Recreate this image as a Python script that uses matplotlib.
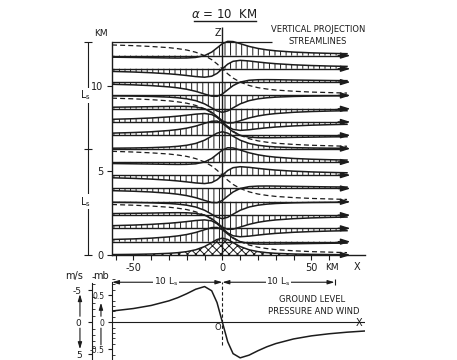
import matplotlib
matplotlib.use('Agg')
import matplotlib.pyplot as plt
from matplotlib.lines import Line2D
from matplotlib.ticker import MultipleLocator

INK = '#1c1c1c'
W, H = 457, 360

plt.rcParams['font.family'] = 'DejaVu Sans'
plt.rcParams['hatch.linewidth'] = 0.7
plt.rcParams['hatch.color'] = INK

# x positions (km) where the streamline shifts were read
x_km = [-62, -50, -40, -30, -25, -20, -15, -10, -6, -3, 0, 3, 6, 10, 15, 20, 25, 30, 40, 50, 60, 70]

# undisturbed streamline heights (km), L_s / 8 apart
levels = [0.0, 0.79, 1.58, 2.36, 3.15, 3.94, 4.73, 5.51,
          6.30, 7.09, 7.88, 8.66, 9.45, 10.24, 11.03, 11.81]

# vertical shift (km) of a streamline, one list per eighth of L_s
shift_0 = [.025, .038, .059, .10, .138, .20, .308, .50, .735, .917, 1.0, .917, .735, .50, .308, .20, .138, .10, .059, .038, .027, .02]
shift_1 = [.129, .163, .208, .283, .341, .424, .544, .707, .831, .843, .707, .454, .208, 0, -.109, -.141, -.146, -.141, -.124, -.109, -.095, -.085]
shift_2 = [.157, .192, .235, .30, .345, .40, .462, .50, .441, .275, 0, -.275, -.441, -.50, -.462, -.40, -.345, -.30, -.235, -.192, -.162, -.14]
shift_3 = [.093, .109, .124, .141, .146, .141, .109, 0, -.208, -.454, -.707, -.843, -.831, -.707, -.544, -.424, -.341, -.283, -.208, -.163, -.134, -.113]
shift_4 = [-.025, -.038, -.059, -.10, -.138, -.20, -.308, -.50, -.735, -.917, -1.0, -.917, -.735, -.50, -.308, -.20, -.138, -.10, -.059, -.038, -.027, -.02]
shift_5 = [-.129, -.163, -.208, -.283, -.341, -.424, -.544, -.707, -.831, -.843, -.707, -.454, -.208, 0, .109, .141, .146, .141, .124, .109, .095, .085]
shift_6 = [-.157, -.192, -.235, -.30, -.345, -.40, -.462, -.50, -.441, -.275, 0, .275, .441, .50, .462, .40, .345, .30, .235, .192, .162, .14]
shift_7 = [-.093, -.109, -.124, -.141, -.146, -.141, -.109, 0, .208, .454, .707, .843, .831, .707, .544, .424, .341, .283, .208, .163, .134, .113]
shifts = [shift_0, shift_1, shift_2, shift_3, shift_4, shift_5, shift_6, shift_7]

# dashed nodal lines: base height + offset along x
node_bases = [0.0, 3.15, 6.30, 9.45]
node_offset = [2.99, 2.95, 2.90, 2.83, 2.77, 2.69, 2.56, 2.36, 2.12, 1.87, 1.575, 1.28, 1.03, .79, .59, .46, .38, .32, .25, .20, .17, .14]

x_ticks = [-60, -50, -40, -30, -20, -10, 0, 10, 20, 30, 40, 50, 60]
x_tick_labels = ['', '-50', '', '', '', '', '0', '', '', '', '', '50', '']
z_ticks = [0, 5, 10]
L_s = 6.3

# ground level pressure (mb)
x_ground = [-62, -50, -40, -30, -25, -20, -15, -10, -6, -3, 0, 3, 6, 10, 15, 20, 25, 30, 40, 50, 60, 70, 80]
p_ground = [.207, .253, .31, .396, .455, .528, .61, .66, .582, .363, 0, -.363, -.582, -.66, -.61, -.528, -.455, -.396, -.31, -.253, -.214, -.185, -.163]
mb_ticks = [-0.5, 0, 0.5]
mb_tick_labels = ['-0.5', '0', '0.5']
ms_ticks = [-5, 0, 5]
ms_per_mb = -8.44


def px(x, y):
    return x / W, 1 - y / H


fig = plt.figure(figsize=(W / 100, H / 100), dpi=100)

# ---- streamlines panel
ax = fig.add_axes([112 / W, 105 / H, 252.8 / W, 233 / H])
ax.set_xlim(-62, 80)
ax.set_ylim(0, 13.8)
for s in ('top', 'right'):
    ax.spines[s].set_visible(False)
ax.spines['left'].set_bounds(0, 2 * L_s)
ax.spines['bottom'].set_bounds(-62, 80)
for s in ('left', 'bottom'):
    ax.spines[s].set_color(INK)
    ax.spines[s].set_linewidth(1.0)
ax.set_xticks(x_ticks, x_tick_labels)
ax.set_yticks(z_ticks, [str(t) for t in z_ticks])
ax.tick_params(length=3.5, width=0.8, labelsize=7, pad=2.5, colors=INK)

head = dict(arrowstyle='-|>,head_length=0.8,head_width=0.25', color=INK, lw=1.0,
            shrinkA=0, shrinkB=0, mutation_scale=7)
for k, z0 in enumerate(levels):
    z = [z0 + d for d in shifts[k % 8]]
    if k == 0:
        ax.fill_between(x_km, 0, z, hatch='xxxx', facecolor='none', edgecolor=INK, linewidth=0)
    else:
        ax.fill_between(x_km, z0, z, hatch='|||', facecolor='none', edgecolor=INK, linewidth=0)
        ax.hlines(z0, -62, 68, color=INK, lw=1.0)
    ax.plot(x_km, z, color=INK, lw=1.1)
    ax.annotate('', xy=(72, z0), xytext=(65, z0), arrowprops=head)

for base in node_bases:
    ax.plot(x_km, [base + o for o in node_offset], color=INK, lw=0.9, ls=(0, (4, 2.5)))

ax.vlines(0, 0, 13.5, color=INK, lw=1.0)
ax.hlines(2 * L_s, -62, 28, color=INK, lw=0.9)

# L_s bracket
xb = -75.5
ax.vlines(xb, 0, 2 * L_s, color=INK, lw=0.8, clip_on=False)
for zc in (0, L_s, 2 * L_s):
    ax.hlines(zc, xb - 2, xb + 2, color=INK, lw=0.8, clip_on=False)
for zc in (0.5 * L_s, 1.5 * L_s):
    ax.text(xb - 1.5, zc, 'L$_\\mathregular{s}$', fontsize=7, ha='center', va='center', color=INK,
            bbox=dict(fc='white', ec='none', pad=0.5), clip_on=False)

# ---- ground level panel
axb = fig.add_axes([112 / W, 0, 252.8 / W, 83.7 / H])
axb.set_xlim(-62, 80)
axb.set_ylim(-0.70, 0.85)
for s in ('top', 'right', 'bottom'):
    axb.spines[s].set_visible(False)
axb.spines['left'].set_bounds(-0.70, 0.74)
axb.spines['left'].set_color(INK)
axb.set_xticks([])
axb.set_yticks(mb_ticks, mb_tick_labels)
axb.yaxis.set_minor_locator(MultipleLocator(0.1))
axb.tick_params(which='major', direction='out', length=3, width=0.8, labelsize=5.5, pad=2.5, colors=INK)
axb.tick_params(which='minor', direction='in', length=2.5, width=0.6, colors=INK)

sec = axb.secondary_yaxis(-20 / 252.8, functions=(lambda mb: ms_per_mb * mb, lambda ms: ms / ms_per_mb))
sec.set_yticks(ms_ticks, [str(t) for t in ms_ticks])
sec.yaxis.set_minor_locator(MultipleLocator(1))
sec.spines['left'].set_bounds(-6.2, 5.9)
sec.spines['left'].set_color(INK)
sec.tick_params(which='major', direction='out', length=3, width=0.8, labelsize=6.5, pad=4.5, colors=INK)
sec.tick_params(which='minor', direction='in', length=2.5, width=0.6, colors=INK)

axb.hlines(0, -62, 80, color=INK, lw=0.8)
axb.plot(x_ground, p_ground, color=INK, lw=1.1)
axb.vlines(0, -0.42, 0.74, color=INK, lw=0.8, linestyles=(0, (3, 2)))

arrow_kw = dict(arrowstyle='<|-|>,head_length=0.5,head_width=0.15', color=INK, lw=0.8,
                shrinkA=0, shrinkB=0, mutation_scale=8)
axb.annotate('', xy=(-62, 0.74), xytext=(0, 0.74), arrowprops=arrow_kw, annotation_clip=False)
axb.annotate('', xy=(0, 0.74), xytext=(10 * L_s, 0.74), arrowprops=arrow_kw, annotation_clip=False)
axb.vlines(10 * L_s, 0.68, 0.80, color=INK, lw=0.8, clip_on=False)
for xc in (-5 * L_s, 5 * L_s):
    axb.text(xc, 0.74, '10 L$_\\mathregular{s}$', fontsize=6.5, ha='center', va='center', color=INK,
             bbox=dict(fc='white', ec='none', pad=0.5))

up = dict(arrowstyle='-|>,head_length=0.5,head_width=0.15', color=INK, lw=0.8,
          shrinkA=0, shrinkB=0, mutation_scale=8)
plain = dict(arrowstyle='-', color=INK, lw=0.8, shrinkA=0, shrinkB=0)
axb.annotate('', xy=(-80, 0.52), xytext=(-80, 0.11), arrowprops=up, annotation_clip=False)
axb.annotate('', xy=(-80, -0.50), xytext=(-80, -0.11), arrowprops=up, annotation_clip=False)
axb.annotate('', xy=(-68.2, 0.36), xytext=(-68.2, 0.11), arrowprops=up, annotation_clip=False)
axb.annotate('', xy=(-68.2, -0.42), xytext=(-68.2, -0.11), arrowprops=plain, annotation_clip=False)

axb.text(-2.5, -0.1, 'O', fontsize=6, ha='center', va='center', color=INK)
axb.text(76.5, -0.02, 'X', fontsize=7, ha='center', va='center', color=INK)

# ---- free text
txt = dict(color=INK, ha='center', va='center')
fig.text(*px(224, 15), r'$\alpha$ = 10  KM', fontsize=8.5, **txt)
fig.add_artist(Line2D([194 / W, 256 / W], [1 - 21 / H, 1 - 21 / H], color=INK, lw=1.0))
fig.text(*px(318, 30), 'VERTICAL PROJECTION', fontsize=6, **txt)
fig.text(*px(318, 42), 'STREAMLINES', fontsize=6, **txt)
fig.text(*px(101, 33), 'KM', fontsize=6.5, **txt)
fig.text(*px(218, 33), 'Z', fontsize=7, **txt)
fig.text(*px(332, 267), 'KM', fontsize=6.5, **txt)
fig.text(*px(357, 267), 'X', fontsize=7, **txt)
fig.text(*px(312, 299), 'GROUND LEVEL', fontsize=6, **txt)
fig.text(*px(314, 312), 'PRESSURE AND WIND', fontsize=6, **txt)
fig.text(*px(74, 276), 'm/s', fontsize=7, **txt)
fig.text(*px(101, 276), 'mb', fontsize=7, **txt)

fig.savefig('out.png', dpi=100, facecolor='white')
